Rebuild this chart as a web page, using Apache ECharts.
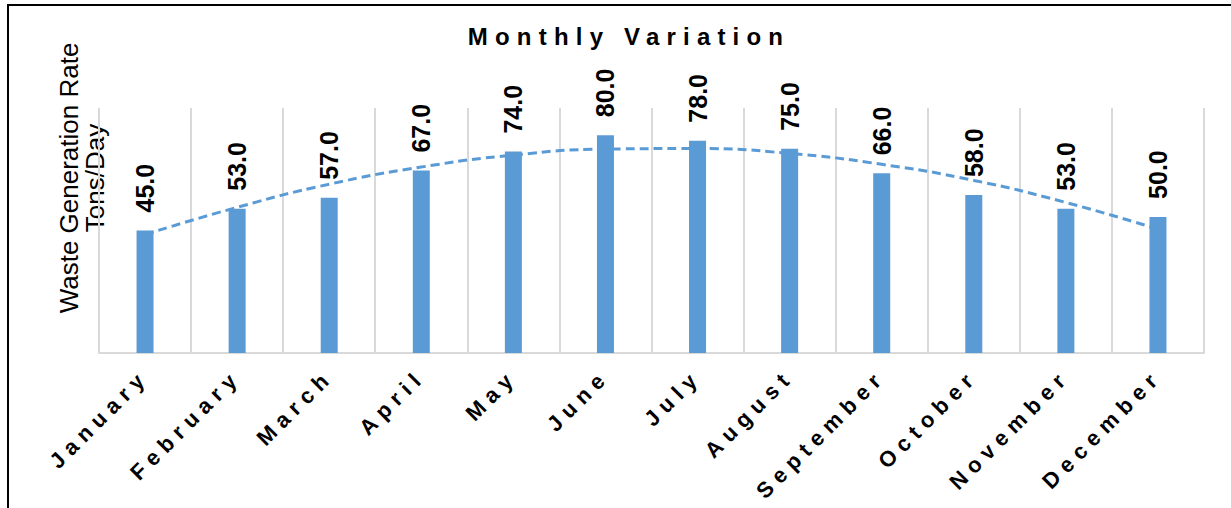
<!DOCTYPE html>
<html>
<head>
<meta charset="utf-8">
<title>Monthly Variation</title>
<style type="text/css">
  body, html { margin:0; padding:0; background:#fff; }
  #main { width:1231px; height:508px; }
  /* Excel-style expanded character spacing on title and month labels */
  #main text[style*="24px"] { letter-spacing: 7.2px; }
  #main text[style*="22px"] { letter-spacing: 6.5px; }
</style>
<script src="https://cdn.jsdelivr.net/npm/echarts@6/dist/echarts.min.js"></script>
</head>
<body>
<div id="main"></div>
<script type="text/javascript">
var months = ['January','February','March','April','May','June','July','August','September','October','November','December'];
var wasteRate = [45, 53, 57, 67, 74, 80, 78, 75, 66, 58, 53, 50];
// dashed trend line
var trendRate = [43.5, 53.5, 62.0, 68.3, 72.7, 74.9, 75.1, 73.3, 69.3, 63.4, 55.3, 45.5];

var chart = echarts.init(document.getElementById('main'), null, {renderer: 'svg'});
var font = '"Liberation Sans", Arial, sans-serif';
var blue = '#5b9bd5';

var option = {
    animation: false,
    title: {
        text: 'Monthly Variation',
        left: 624,
        top: 19,
        textAlign: 'center',
        textStyle: {fontFamily: font, fontSize: 24, fontWeight: 'bold', color: '#000'}
    },
    graphic: [
        {
            type: 'rect', silent: true,
            shape: {x: 8, y: 5, width: 1240, height: 520},
            style: {fill: null, stroke: '#000', lineWidth: 2}
        },
        {
            type: 'text', silent: true,
            x: 82, y: 178, rotation: Math.PI / 2,
            style: {
                text: 'Waste Generation Rate\nTons/Day',
                x: 0, y: 0,
                align: 'center', verticalAlign: 'middle',
                font: '26px ' + font, lineHeight: 26, fill: '#000'
            }
        }
    ],
    grid: {left: 99, right: 27, top: 108, bottom: 155},
    xAxis: {
        type: 'category',
        data: months,
        axisLine: {lineStyle: {color: '#d9d9d9', width: 2}},
        axisTick: {show: false},
        splitLine: {show: true, lineStyle: {color: '#d9d9d9', width: 2}},
        axisLabel: {
            rotate: 45, margin: 20, interval: 0,
            fontFamily: font, fontSize: 22, fontWeight: 'bold', color: '#000'
        }
    },
    yAxis: {
        type: 'value', min: 0, max: 90,
        axisLine: {show: false}, axisTick: {show: false},
        axisLabel: {show: false}, splitLine: {show: false}
    },
    series: [
        {
            type: 'bar',
            data: wasteRate,
            barWidth: 17,
            itemStyle: {color: blue},
            label: {
                show: true, position: 'top', rotate: 90,
                align: 'left', verticalAlign: 'middle', distance: 18,
                fontFamily: font, fontSize: 25, fontWeight: 'bold', color: '#000',
                formatter: function (p) { return p.value.toFixed(1); }
            }
        },
        {
            type: 'line',
            data: trendRate,
            smooth: true,
            symbol: 'none',
            z: 3,
            lineStyle: {color: blue, width: 3, type: [9, 5]}
        }
    ]
};
chart.setOption(option);
</script>
</body>
</html>
